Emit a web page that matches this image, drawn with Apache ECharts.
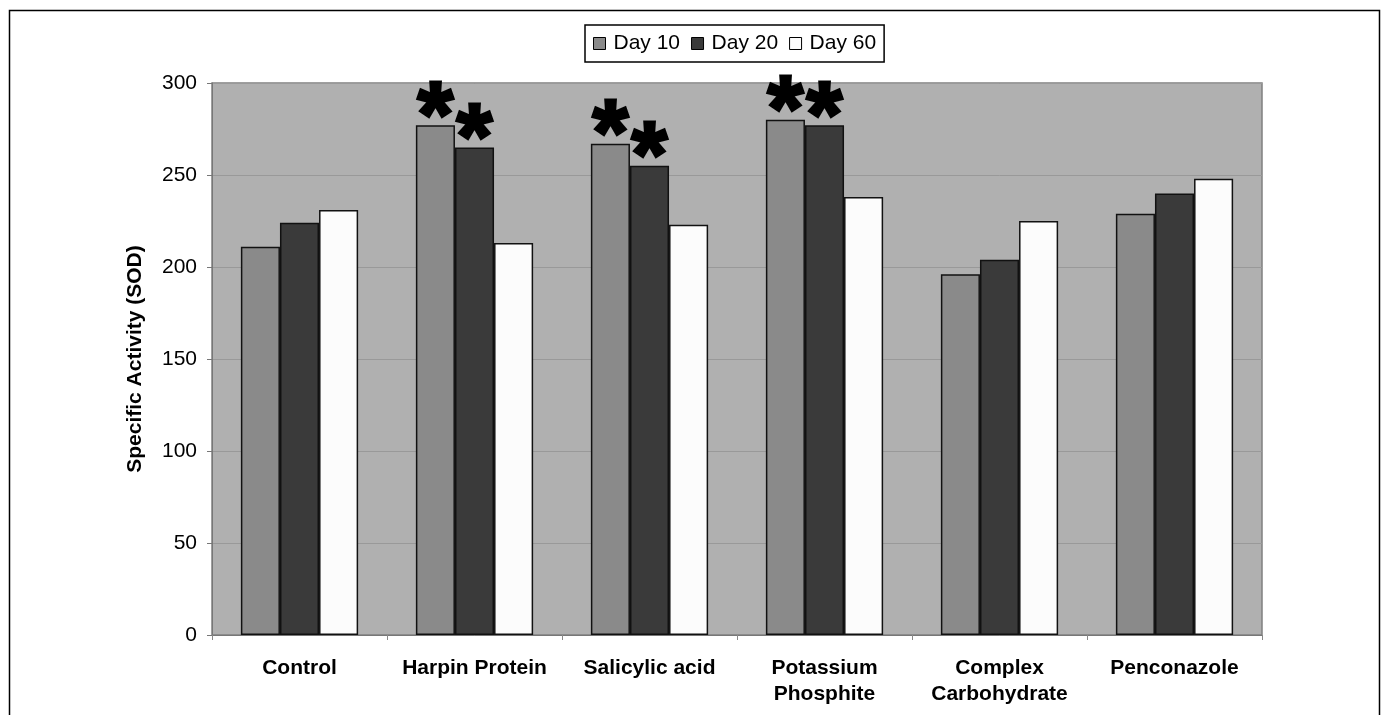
<!DOCTYPE html>
<html><head><meta charset="utf-8">
<script src="https://cdn.jsdelivr.net/npm/echarts@6/dist/echarts.min.js"></script>
<style>html,body{margin:0;padding:0;background:#fff}#c{width:1382px;height:715px}</style>
</head><body><div id="c"></div>
<script>
const categories = ['Control', 'Harpin Protein', 'Salicylic acid', 'Potassium\nPhosphite', 'Complex\nCarbohydrate', 'Penconazole'];
const seriesNames = ['Day 10', 'Day 20', 'Day 60'];
const day10 = [211, 277, 267, 280, 196, 229];
const day20 = [224, 265, 255, 277, 204, 240];
const day60 = [231, 213, 223, 238, 225, 248];
const star10 = [false, true, true, true, false, false];
const star20 = [false, true, true, true, false, false];
const colors = ['#8a8a8a', '#3a3a3a', '#fcfcfc'];

function mk(vals, stars) {
  return vals.map((v, i) => ({
    value: v,
    label: stars ? { show: stars[i] } : { show: false }
  }));
}
const chart = echarts.init(document.getElementById('c'));
const font = 'Liberation Sans, Arial, sans-serif';
const lab = {
  position: 'top', formatter: '*', color: '#000', fontSize: 92, fontWeight: 'bold',
  fontFamily: font, offset: [0, 46], textBorderColor: '#000', textBorderWidth: 3
};
chart.setOption({
  animation: false,
  backgroundColor: '#fff',
  graphic: [{ type: 'rect', shape: { x: 9.5, y: 10.5, width: 1370, height: 720 },
    style: { fill: 'none', stroke: '#000', lineWidth: 1.5 }, silent: true }],
  legend: {
    top: 25, left: 585, itemWidth: 12, itemHeight: 12, itemGap: 11,
    icon: 'rect',
    borderColor: '#000', borderWidth: 1.5, padding: [8, 8, 8, 8],
    textStyle: { fontSize: 21, fontFamily: font, color: '#000', padding: [0, 0, 0, 3] },
    data: seriesNames.map((n, i) => ({ name: n, itemStyle: { color: colors[i], borderColor: '#000', borderWidth: 1 } }))
  },
  grid: { left: 212, right: 120, top: 83, bottom: 80, show: true, backgroundColor: '#b0b0b0', borderColor: '#808080', borderWidth: 1.5 },
  xAxis: {
    type: 'category', data: categories,
    axisLine: { lineStyle: { color: '#777' } },
    axisTick: { show: true, length: 5, lineStyle: { color: '#888' } },
    axisLabel: { interval: 0, fontSize: 21, fontWeight: 'bold', fontFamily: font, color: '#000', margin: 20, lineHeight: 26 }
  },
  yAxis: {
    type: 'value', min: 0, max: 300, interval: 50,
    name: 'Specific Activity (SOD)', nameLocation: 'middle', nameGap: 66,
    nameTextStyle: { fontSize: 21, fontWeight: 'bold', fontFamily: font, color: '#000' },
    axisLine: { show: true, lineStyle: { color: '#777' } },
    axisTick: { show: true, length: 5, lineStyle: { color: '#777' } },
    axisLabel: { fontSize: 21, fontFamily: font, color: '#000', margin: 15 },
    splitLine: { lineStyle: { color: '#999', width: 1 } }
  },
  series: [
    { name: 'Day 10', type: 'bar', data: mk(day10, star10), barGap: '0%', barCategoryGap: '33%',
      itemStyle: { color: colors[0], borderColor: '#111', borderWidth: 1.5 }, label: lab },
    { name: 'Day 20', type: 'bar', data: mk(day20, star20), barGap: '0%', barCategoryGap: '33%',
      itemStyle: { color: colors[1], borderColor: '#111', borderWidth: 1.5 }, label: lab },
    { name: 'Day 60', type: 'bar', data: mk(day60, null), barGap: '0%', barCategoryGap: '33%',
      itemStyle: { color: colors[2], borderColor: '#111', borderWidth: 1.5 } }
  ]
});
</script></body></html>
